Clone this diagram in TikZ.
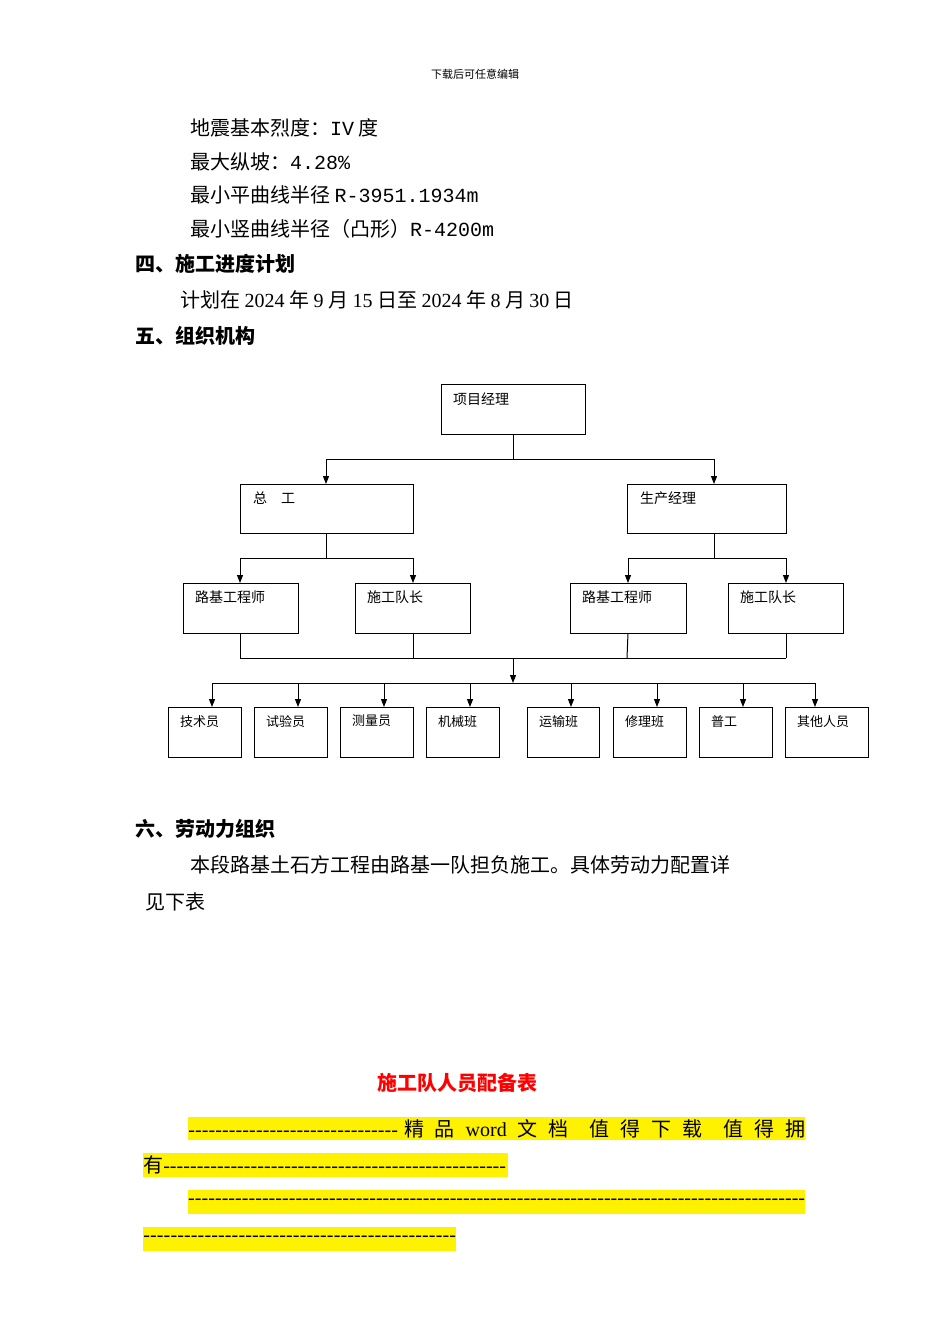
\documentclass[tikz,border=0pt]{standalone}
\usepackage{fontspec}
\setmainfont{Noto Sans CJK SC}
\newfontfamily\monof{Liberation Mono}
\newfontfamily\serf{Liberation Serif}
\usetikzlibrary{arrows.meta}
\begin{document}
\begin{tikzpicture}[x=1pt,y=-1pt,
  bx/.style={draw,thick,line width=1pt},
  ln/.style={line width=1pt},
  ar/.style={line width=1pt,-{Triangle[length=8pt,width=6pt]}},
  bt/.style={anchor=north west,inner sep=0pt,font=\fontsize{14}{14}\selectfont},
  tx/.style={anchor=west,inner sep=0pt,font=\fontsize{20}{20}\selectfont},
  hd/.style={anchor=west,inner sep=0pt,font=\fontsize{20}{20}\selectfont\bfseries}]
\useasboundingbox (0,0) rectangle (950,1344);
\node[inner sep=0pt,font=\fontsize{11}{11}\selectfont] (hdr) at (475,74) {下载后可任意编辑};
\node[tx] (l1) at (190,128) {地震基本烈度：{\monof IV} 度};
\node[tx] (l2) at (190,162) {最大纵坡：{\monof 4.28\%}};
\node[tx] (l3) at (190,195) {最小平曲线半径 {\monof R-3951.1934m}};
\node[tx] (l4) at (190,229) {最小竖曲线半径（凸形）{\monof R-4200m}};
\node[hd] (h4) at (135,264) {四、施工进度计划};
\node[tx] (l5) at (180,300) {计划在 {\serf 2024} 年 {\serf 9} 月 {\serf 15} 日至 {\serf 2024} 年 {\serf 8} 月 {\serf 30} 日};
\node[hd] (h5) at (135,336) {五、组织机构};
% boxes
\draw[bx] (441,384) rectangle (585,434) coordinate (pmc);
\node[bt] (pm) at (453,393) {项目经理};
\draw[bx] (240,484) rectangle (413,533);
\node[bt] (zg) at (253,492) {总\hspace{1em}工};
\draw[bx] (627,484) rectangle (786,533);
\node[bt] (sc) at (640,492) {生产经理};
\foreach \a/\b/\t [count=\i] in {183/298/路基工程师,355/470/施工队长,570/686/路基工程师,728/843/施工队长}{
  \draw[bx] (\a,583) rectangle (\b,633);
  \node[bt] (r3\i) at (\a+12,591) {\t};
}
\foreach \a/\b/\t [count=\i] in {168/241/技术员,254/327/试验员,340/413/测量员,426/499/机械班,527/599/运输班,613/686/修理班,699/772/普工,785/868/其他人员}{
  \draw[bx] (\a,707) rectangle (\b,757);
  \node[bt,font=\fontsize{13}{13}\selectfont] (r4\i) at (\a+12,715) {\t};
}
% connectors
\coordinate (j1) at (513,459);
\draw[ln] (513,434) -- (j1);
\draw[ln] (326,459) -- (714,459);
\draw[ar] (326,459) -- (326,484);
\draw[ar] (714,459) -- (714,484);
\draw[ln] (326,533) -- (326,558);
\draw[ln] (240,558) -- (413,558);
\draw[ar] (240,558) -- (240,583);
\draw[ar] (413,558) -- (413,583);
\draw[ln] (714,533) -- (714,558);
\draw[ln] (628,558) -- (786,558);
\draw[ar] (628,558) -- (628,583);
\draw[ar] (786,558) -- (786,583);
\foreach \x in {240,413,786} \draw[ln] (\x,633) -- (\x,658);
\draw[ln] (628,633) -- (627,658);
\draw[ln] (240,658) -- (786,658);
\draw[ar] (513,658) -- (513,683);
\draw[ln] (212,683) -- (815,683);
\foreach \x in {212,298,384,470,571,657,743,815} \draw[ar] (\x,683) -- (\x,707);
% section 6
\node[hd] (h6) at (135,829) {六、劳动力组织};
\node[tx] (l6) at (190,865) {本段路基土石方工程由路基一队担负施工。具体劳动力配置详};
\node[tx] (l7) at (145,902) {见下表};
\node[inner sep=0pt,text=red,font=\fontsize{20}{20}\selectfont\bfseries] (tt) at (457,1083) {施工队人员配备表};
% highlights
\fill[yellow] (188,1117) rectangle (805,1140);
\fill[yellow] (143,1153) rectangle (508,1177);
\fill[yellow] (188,1190) rectangle (805,1214);
\fill[yellow] (143,1227) rectangle (456,1251);
\node[anchor=west,inner sep=0pt,font=\fontsize{20}{20}\selectfont] (d1) at (188,1129) {\hbox to 210pt{\xleaders\hbox{\serf -}\hfill}\hbox to 407pt{\hspace{6pt}精\hfill 品\hfill {\serf word}\hfill 文\hfill 档\hfill\hfill 值\hfill 得\hfill 下\hfill 载\hfill\hfill 值\hfill 得\hfill 拥}};
\node[anchor=west,inner sep=0pt,font=\fontsize{20}{20}\selectfont] (d2) at (143,1165) {有\hbox to 343pt{\xleaders\hbox{\serf -}\hfill}};
\node[anchor=west,inner sep=0pt,font=\fontsize{20}{20}\selectfont] (d3) at (188,1202) {\hbox to 617pt{\xleaders\hbox{\serf -}\hfill}};
\node[anchor=west,inner sep=0pt,font=\fontsize{20}{20}\selectfont] (d4) at (143,1239) {\hbox to 313pt{\xleaders\hbox{\serf -}\hfill}};
\end{tikzpicture}
\end{document}
